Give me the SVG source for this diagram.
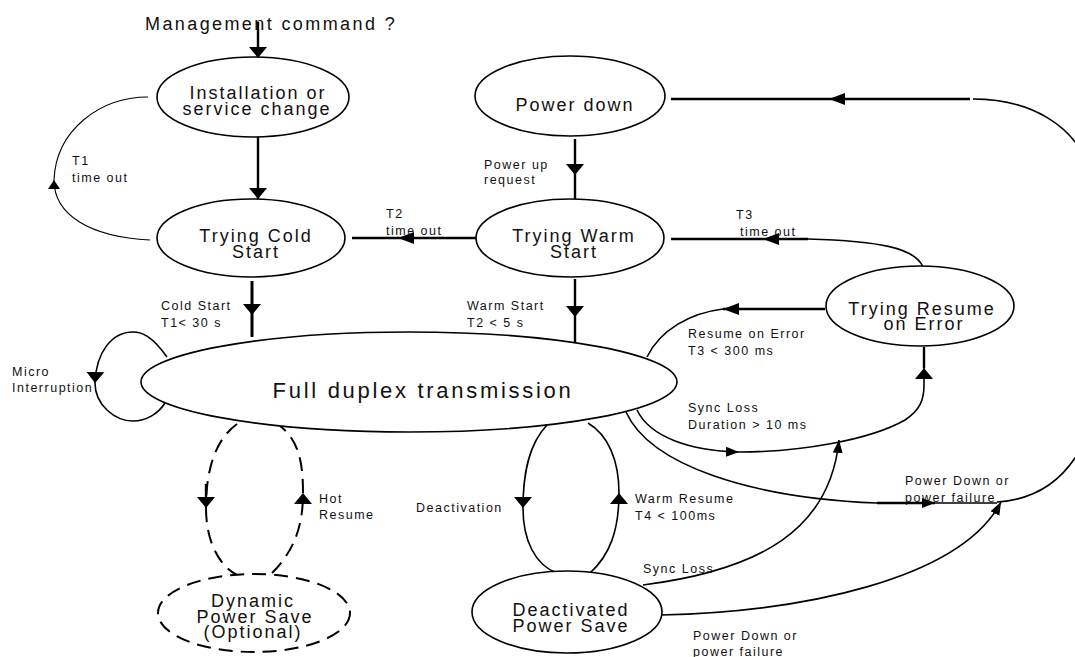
<svg xmlns="http://www.w3.org/2000/svg" width="1075" height="657" viewBox="0 0 1075 657">
<style>
  text { font-family: "Liberation Sans", Arial, sans-serif; fill: #111; }
  .node { font-size: 18px; letter-spacing: 2px; text-anchor: middle; }
  .big { font-size: 22px; letter-spacing: 2.7px; text-anchor: middle; }
  .lbl { font-size: 12.5px; letter-spacing: 1.5px; }
  .title { font-size: 18px; letter-spacing: 2.4px; }
  ellipse { fill: #fff; stroke: #000; stroke-width: 1.6; }
  .dash { stroke-dasharray: 14 8; stroke-width: 2; }
  .c { fill: none; stroke: #000; stroke-width: 1.6; }
  .c2 { fill: none; stroke: #000; stroke-width: 2.4; }
  .c3 { fill: none; stroke: #000; stroke-width: 3; }
  .c1 { fill: none; stroke: #000; stroke-width: 1.1; }
  .cd { fill: none; stroke: #000; stroke-width: 2; stroke-dasharray: 14 8; }
</style>
<defs>
  <marker id="av" markerUnits="userSpaceOnUse" markerWidth="12" markerHeight="19" refX="11" refY="9" orient="auto" viewBox="0 0 12 18">
    <path d="M0,0 L11,9 L0,18 Z" fill="#000"/>
  </marker>
  <marker id="ah" markerUnits="userSpaceOnUse" markerWidth="17" markerHeight="13" refX="16" refY="6" orient="auto" viewBox="0 0 17 12">
    <path d="M0,0 L16,6 L0,12 Z" fill="#000"/>
  </marker>
  <marker id="as" markerUnits="userSpaceOnUse" markerWidth="14" markerHeight="11" refX="13" refY="5" orient="auto" viewBox="0 0 14 10">
    <path d="M0,0 L13,5 L0,10 Z" fill="#000"/>
  </marker>
  <marker id="at" markerUnits="userSpaceOnUse" markerWidth="10" markerHeight="13" refX="9" refY="6" orient="auto" viewBox="0 0 10 12">
    <path d="M0,0 L9,6 L0,12 Z" fill="#000"/>
  </marker>
</defs>
<rect width="1075" height="657" fill="#fff"/>

<g id="connectors">
  <path class="c2" d="M258,22 L258,58" marker-end="url(#av)"/>
  <path class="c2" d="M258,137 L258,199" marker-end="url(#av)"/>
  <path class="c1" d="M150,240 C90,237 54,215 54,180" marker-end="url(#at)"/>
  <path class="c1" d="M54,180 C56,130 100,97 148,97"/>
  <path class="c2" d="M476,238 L398,238" marker-end="url(#ah)"/>
  <path class="c2" d="M398,238 L352,238"/>
  <path class="c2" d="M575,139 L575,175" marker-end="url(#av)"/>
  <path class="c2" d="M575,175 L575,199"/>
  <path class="c3" d="M252,281 L252,315" marker-end="url(#av)"/>
  <path class="c3" d="M252,315 L252,337"/>
  <path class="c2" d="M575,279 L575,317" marker-end="url(#av)"/>
  <path class="c2" d="M575,317 L575,342"/>
  <path class="c2" d="M970,99 L829,99" marker-end="url(#ah)"/>
  <path class="c2" d="M829,99 L671,99"/>
  <path class="c" d="M973,99 C1030,99 1075,125 1090,170 C1105,215 1105,390 1080,450 C1060,485 1030,500 997,502"/>
  <path class="c" d="M923,267 C915,248 880,241 808,239"/>
  <path class="c2" d="M808,239 L763,239" marker-end="url(#ah)"/>
  <path class="c2" d="M763,239 L671,239"/>
  <path class="c2" d="M825,309 L723,309" marker-end="url(#ah)"/>
  <path class="c" d="M723,309 C690,313 660,330 647,357"/>
  <path class="c" d="M637,410 C650,437 690,451 739,452" marker-end="url(#as)"/>
  <path class="c" d="M739,452 C800,452 870,440 905,420 C920,410 924,400 924,385 L924,368" marker-end="url(#av)"/>
  <path class="c2" d="M924,368 L924,347"/>
  <path class="c" d="M626,412 C650,465 750,498 877,503 L935,503" marker-end="url(#as)"/>
  <path class="c2" d="M877,503 L935,503"/>
  <path class="c" d="M935,503 L997,503"/>
  <path class="c" d="M547,425 C528,445 523,475 523,508" marker-end="url(#av)"/>
  <path class="c" d="M523,508 C523,540 535,565 557,573"/>
  <path class="c" d="M590,573 C610,555 619,530 619,493" marker-end="url(#av)"/>
  <path class="c" d="M619,493 C619,460 608,435 588,423"/>
  <path class="c" d="M643,585 C760,570 830,530 839,440" marker-end="url(#as)"/>
  <path class="c" d="M661,615 C800,612 960,580 1001,502" marker-end="url(#as)"/>
  <path class="c" d="M167,357 C152,336 142,332 133,332 C112,332 96,352 95,383" marker-end="url(#av)"/>
  <path class="c" d="M95,383 C95,405 115,421 133,421 C146,421 158,414 165,403"/>
  <path class="cd" d="M237,424 C215,440 206,470 206,508" marker-end="url(#av)"/>
  <path class="c2" d="M206,484 L206,500"/>
  <path class="cd" d="M206,508 C206,540 218,565 237,575"/>
  <path class="cd" d="M272,573 C295,550 303,525 303,493" marker-end="url(#av)"/>
  <path class="cd" d="M303,493 C303,460 298,440 280,426"/>
</g>

<g id="nodes">
  <g id="n-install">
    <ellipse cx="253" cy="97" rx="96" ry="40"/>
    <text class="node" x="258" y="99">Installation or</text>
    <text class="node" x="257" y="115">service change</text>
  </g>
  <g id="n-cold">
    <ellipse cx="251" cy="238" rx="94" ry="39"/>
    <text class="node" x="256" y="242">Trying Cold</text>
    <text class="node" x="256" y="258">Start</text>
  </g>
  <g id="n-powerdown">
    <ellipse cx="570" cy="96" rx="95" ry="40"/>
    <text class="node" x="575" y="111">Power down</text>
  </g>
  <g id="n-warm">
    <ellipse cx="570" cy="238" rx="94" ry="39"/>
    <text class="node" x="574" y="242">Trying Warm</text>
    <text class="node" x="574" y="258">Start</text>
  </g>
  <g id="n-resume">
    <ellipse cx="920" cy="306" rx="94" ry="40"/>
    <text class="node" x="922" y="315">Trying Resume</text>
    <text class="node" x="924" y="330">on Error</text>
  </g>
  <g id="n-full">
    <ellipse cx="409" cy="382" rx="268" ry="50"/>
    <text class="big" x="423" y="398">Full duplex transmission</text>
  </g>
  <g id="n-deact">
    <ellipse cx="567" cy="612" rx="95" ry="41"/>
    <text class="node" x="571" y="616">Deactivated</text>
    <text class="node" x="571" y="632">Power Save</text>
  </g>
  <g id="n-dynamic">
    <ellipse class="dash" cx="254" cy="613" rx="96" ry="39"/>
    <text class="node" x="253" y="607">Dynamic</text>
    <text class="node" x="255" y="623">Power Save</text>
    <text class="node" x="253" y="638">(Optional)</text>
  </g>
</g>

<g id="labels">
  <text class="title" x="145" y="30">Management command ?</text>
  <text class="lbl" x="72" y="165">T1</text>
  <text class="lbl" x="72" y="182">time out</text>
  <text class="lbl" x="386" y="218">T2</text>
  <text class="lbl" x="386" y="235">time out</text>
  <text class="lbl" x="161" y="310">Cold Start</text>
  <text class="lbl" x="161" y="327">T1&lt; 30 s</text>
  <text class="lbl" x="484" y="169">Power up</text>
  <text class="lbl" x="484" y="184">request</text>
  <text class="lbl" x="736" y="219">T3</text>
  <text class="lbl" x="740" y="236">time out</text>
  <text class="lbl" x="467" y="310">Warm Start</text>
  <text class="lbl" x="467" y="327">T2 &lt; 5 s</text>
  <text class="lbl" x="688" y="338">Resume on Error</text>
  <text class="lbl" x="688" y="355">T3 &lt; 300 ms</text>
  <text class="lbl" x="688" y="412">Sync Loss</text>
  <text class="lbl" x="688" y="429">Duration &gt; 10 ms</text>
  <text class="lbl" x="12" y="376">Micro</text>
  <text class="lbl" x="12" y="392">Interruption</text>
  <text class="lbl" x="319" y="503">Hot</text>
  <text class="lbl" x="319" y="519">Resume</text>
  <text class="lbl" x="416" y="512">Deactivation</text>
  <text class="lbl" x="635" y="503">Warm Resume</text>
  <text class="lbl" x="635" y="520">T4 &lt; 100ms</text>
  <text class="lbl" x="905" y="485">Power Down or</text>
  <text class="lbl" x="905" y="502">power failure</text>
  <text class="lbl" x="643" y="573">Sync Loss</text>
  <text class="lbl" x="693" y="640">Power Down or</text>
  <text class="lbl" x="693" y="656">power failure</text>
</g>
</svg>
